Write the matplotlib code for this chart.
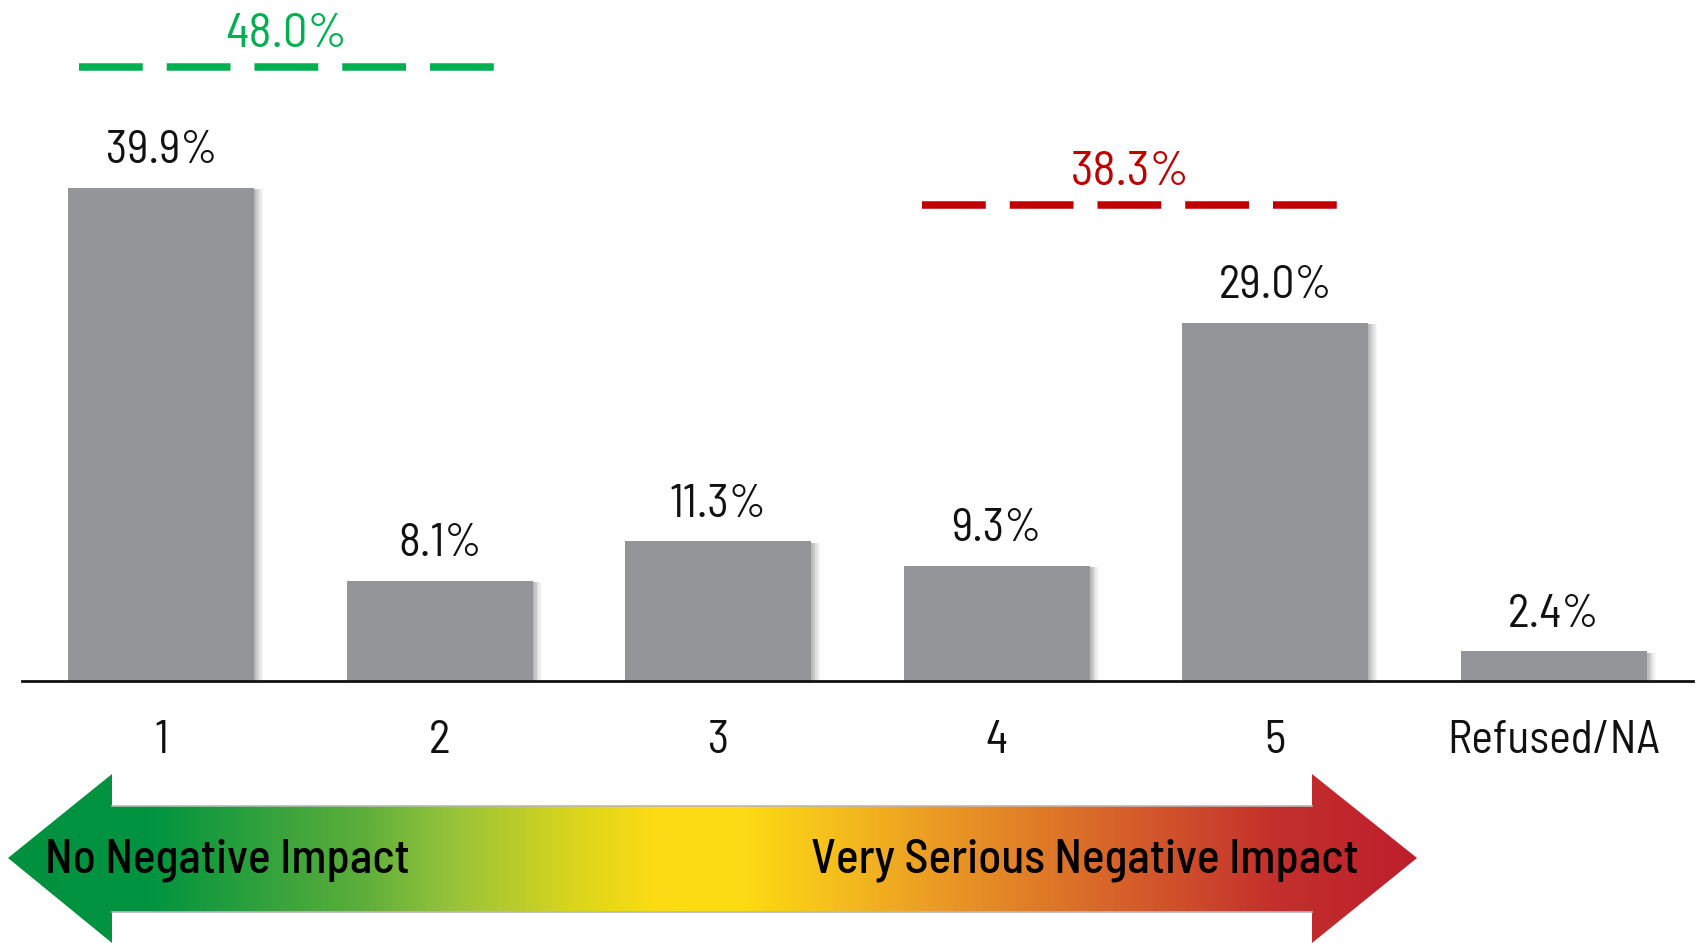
import numpy as np
import matplotlib
matplotlib.use('Agg')
import matplotlib.pyplot as plt
from matplotlib.colors import LinearSegmentedColormap
from matplotlib.patches import Polygon

plt.rcParams['font.family'] = ['Barlow Semi Condensed', 'DejaVu Sans']

categories = ['1', '2', '3', '4', '5', 'Refused/NA']
values = [39.9, 8.1, 11.3, 9.3, 29.0, 2.4]
value_labels = ['39.9%', '8.1%', '11.3%', '9.3%', '29.0%', '2.4%']
groups = ['48.0%', '38.3%']
group_spans = [(-0.295, 1.196), (2.73, 4.228)]
group_levels = [49.7, 38.5]
group_colors = ['#00B050', '#C00000']
scale_labels = ['No Negative Impact', 'Very Serious Negative Impact']

W, H = 1696, 943
fig = plt.figure(figsize=(W / 100, H / 100), dpi=100)

# bar axes: baseline sits 681 px from the top
ax = fig.add_axes([22 / W, 262 / H, 1671 / W, (H - 262) / H])
ax.set_xlim(-0.5, 5.5)
ax.set_ylim(0, 55.1)

x = np.arange(len(categories))
bw = 0.668
# soft drop shadow
for dx, a in [(0.032, 0.05), (0.026, 0.07), (0.020, 0.09), (0.014, 0.12), (0.008, 0.15)]:
    ax.bar(x + dx, np.array(values) - 0.1, width=bw, color='#555555', alpha=a,
           zorder=1, linewidth=0)
ax.bar(x, values, width=bw, color='#939598', zorder=2, linewidth=0)

for xi, v, lab in zip(x, values, value_labels):
    ax.text(xi, v + 2.0, lab, ha='center', va='baseline', fontsize=33, color='#111111',
            clip_on=False)

for (x0, x1), lvl, col, lab in zip(group_spans, group_levels, group_colors, groups):
    ax.plot([x0, x1], [lvl, lvl], color=col, lw=5.4, linestyle=(0, (8.5, 3.2)),
            dash_capstyle='butt', solid_capstyle='butt', clip_on=False, zorder=3)
    ax.text((x0 + x1) / 2, lvl + 1.6, lab, ha='center', va='baseline', fontsize=35,
            color=col, clip_on=False)

for s in ['top', 'right', 'left']:
    ax.spines[s].set_visible(False)
ax.spines['bottom'].set_linewidth(2)
ax.spines['bottom'].set_color('#111111')
ax.set_yticks([])
ax.set_xticks(x)
ax.set_xticklabels(categories, fontsize=33, color='#111111')
ax.tick_params(axis='x', length=0, pad=28)

# overlay axes in pixel coords for the scale arrow
ov = fig.add_axes([0, 0, 1, 1], zorder=-1)
ov.set_xlim(0, W)
ov.set_ylim(H, 0)
ov.axis('off')

cy = 858
verts = [(8, cy), (112, 774), (112, 806), (1312, 806), (1312, 774), (1417, cy),
         (1312, 943), (1312, 912), (112, 912), (112, 943)]
arrow = Polygon(verts, closed=True, facecolor='none', edgecolor='none')
ov.add_patch(arrow)

stops = [(0.0, '#00913F'), (0.10, '#009440'), (0.25, '#5DAE3A'), (0.31, '#93C23A'),
         (0.40, '#D9D51C'), (0.46, '#FDDB15'), (0.52, '#FDDB15'), (0.58, '#F6C21C'),
         (0.66, '#EB9B24'), (0.78, '#D8662A'), (0.90, '#C3302C'), (1.0, '#BE1E2D')]
cmap = LinearSegmentedColormap.from_list('impact', stops)
grad = np.linspace(0, 1, 512).reshape(1, -1)
im = ov.imshow(grad, extent=[8, 1417, 943, 774], aspect='auto', cmap=cmap, zorder=1)
im.set_clip_path(arrow)
ov.plot([112, 1312], [806, 806], color='#b8b8b8', lw=1.2, zorder=2)
ov.plot([112, 1312], [912, 912], color='#b8b8b8', lw=1.2, zorder=2)

ov.text(45, 873, scale_labels[0], ha='left', va='baseline', fontsize=34,
        fontweight=500, color='black', zorder=3)
ov.text(1359, 873, scale_labels[1], ha='right', va='baseline', fontsize=34,
        fontweight=500, color='black', zorder=3)

# remains of the cut-off title
ov.text(1198, 0, 'g', ha='center', va='baseline', fontsize=40, color='black')

fig.savefig('out.png', dpi=100)
